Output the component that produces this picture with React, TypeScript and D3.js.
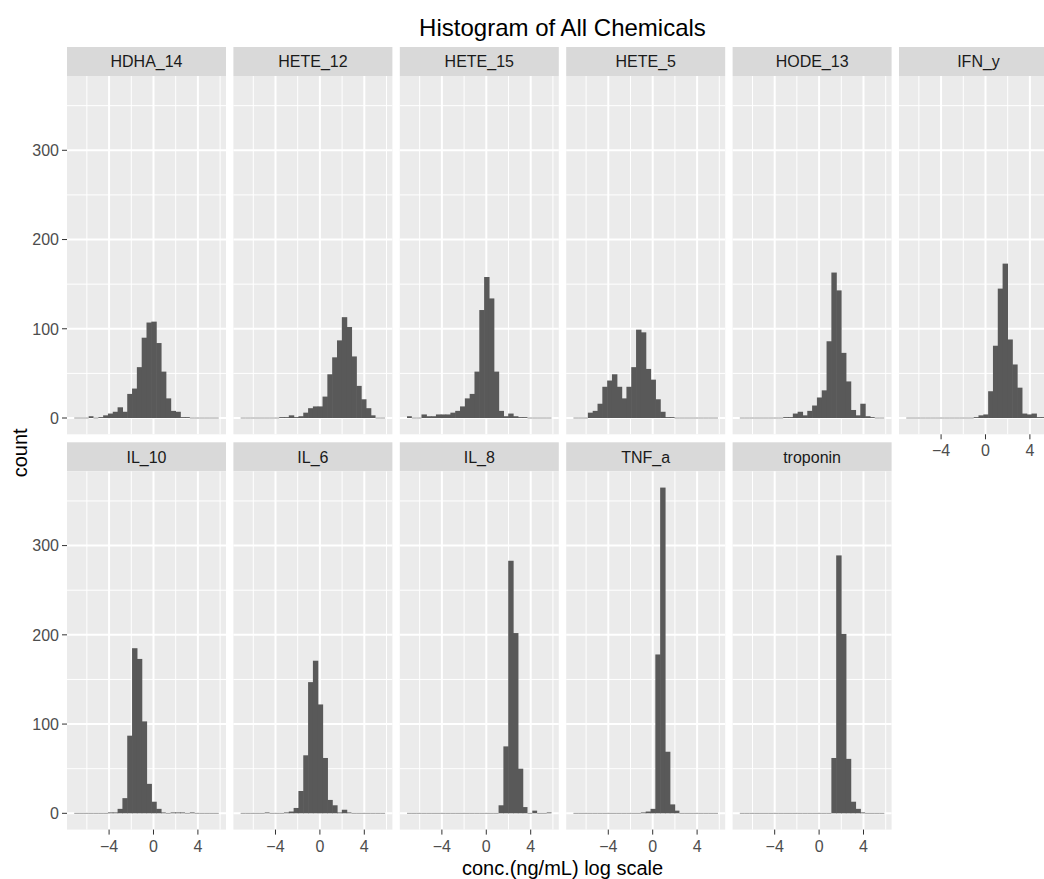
import React from 'react'
import * as d3 from 'd3'

// facet names, in plot order
const chemicals = ['HDHA_14', 'HETE_12', 'HETE_15', 'HETE_5', 'HODE_13', 'IFN_y', 'IL_10', 'IL_6', 'IL_8', 'TNF_a', 'troponin']

// counts per bin (30 bins, shared breaks)
const HDHA_14 = [0, 0, 0, 2, 0, 1, 3, 5, 7, 12, 7, 27, 33, 57, 90, 107, 108, 84, 52, 22, 8, 7, 1, 1, 0, 0, 0, 0, 0, 0]
const HETE_12 = [0, 0, 0, 0, 0, 0, 0, 0, 1, 1, 3, 1, 2, 6, 11, 13, 13, 24, 49, 68, 87, 113, 102, 69, 36, 21, 11, 3, 0, 0]
const HETE_15 = [2, 0, 0, 4, 2, 2, 4, 4, 4, 6, 8, 13, 22, 27, 52, 121, 158, 134, 52, 8, 2, 5, 2, 1, 1, 0, 0, 0, 0, 0]
const HETE_5 = [0, 0, 0, 6, 8, 16, 35, 42, 49, 35, 22, 35, 57, 99, 96, 55, 43, 21, 7, 1, 1, 0, 0, 0, 0, 0, 0, 0, 0, 0]
const HODE_13 = [0, 0, 0, 0, 0, 0, 0, 0, 0, 1, 1, 5, 7, 3, 8, 14, 23, 31, 86, 163, 143, 73, 41, 9, 3, 16, 2, 1, 0, 0]
const IFN_y = [0, 0, 0, 0, 0, 0, 0, 0, 0, 0, 0, 0, 0, 0, 1, 3, 4, 30, 81, 145, 173, 88, 60, 34, 5, 4, 5, 1, 1, 0]
const IL_10 = [0, 0, 0, 0, 0, 0, 0, 1, 1, 5, 17, 87, 185, 173, 103, 33, 13, 5, 1, 0, 1, 1, 1, 0, 1, 0, 0, 0, 0, 0]
const IL_6 = [0, 0, 0, 0, 0, 1, 0, 0, 0, 1, 2, 6, 25, 65, 147, 171, 122, 62, 15, 9, 1, 4, 1, 0, 0, 0, 0, 0, 0, 0]
const IL_8 = [0, 0, 0, 0, 0, 0, 0, 0, 0, 0, 0, 0, 0, 0, 0, 0, 0, 0, 0, 9, 75, 283, 202, 50, 7, 0, 3, 0, 0, 1]
const TNF_a = [0, 0, 0, 0, 0, 0, 0, 0, 0, 0, 0, 0, 0, 0, 1, 2, 5, 178, 365, 69, 10, 3, 0, 0, 0, 0, 0, 0, 0, 0]
const troponin = [0, 0, 0, 0, 0, 0, 0, 0, 0, 0, 0, 0, 0, 0, 0, 0, 0, 0, 0, 62, 289, 201, 61, 13, 5, 1, 0, 0, 0, 0]

const counts = [HDHA_14, HETE_12, HETE_15, HETE_5, HODE_13, IFN_y, IL_10, IL_6, IL_8, TNF_a, troponin]

const binStart = -7.14
const binWidth = 0.434
const xMajor = [-4, 0, 4]
const xMinor = [-6, -2, 2, 6]
const yMajor = [0, 100, 200, 300]
const yMinor = [50, 150, 250, 350]

const font = '"Liberation Sans", Arial, Helvetica, sans-serif'

const W = 1044
const H = 879
const nCol = 6
const left0 = 67
const pitch = 166.4
const panelW = 159
const panelH = 358.3
const rowTop = [76, 471.3]
const stripH = 29

export default function App() {
  const nBins = counts[0].length
  const binEnd = binStart + nBins * binWidth
  const pad = (binEnd - binStart) * 0.05
  const x = d3.scaleLinear().domain([binStart - pad, binEnd + pad]).range([0, panelW])
  const maxCount = d3.max(counts, c => d3.max(c)) as number
  const y = d3.scaleLinear().domain([-0.05 * maxCount, 1.05 * maxCount]).range([panelH, 0])
  const fmt = d3.format('d')

  const panels = chemicals.map((name, i) => {
    const col = i % nCol
    const row = Math.floor(i / nCol)
    const px = left0 + col * pitch
    const py = rowTop[row]
    // bottom axis only where nothing sits below
    const hasXAxis = i + nCol >= chemicals.length
    const hasYAxis = col === 0
    return (
      <g key={name} transform={`translate(${px},${py})`}>
        <rect x={0} y={-stripH} width={panelW} height={stripH} fill='#D9D9D9' />
        <text x={panelW / 2} y={-stripH / 2} dy='0.36em' textAnchor='middle' fontSize={16} fill='#1A1A1A'>{name}</text>
        <rect x={0} y={0} width={panelW} height={panelH} fill='#EBEBEB' />
        {xMinor.map(t => <line key={'xm' + t} x1={x(t)} x2={x(t)} y1={0} y2={panelH} stroke='#fff' strokeWidth={1} />)}
        {yMinor.map(t => <line key={'ym' + t} x1={0} x2={panelW} y1={y(t)} y2={y(t)} stroke='#fff' strokeWidth={1} />)}
        {xMajor.map(t => <line key={'xM' + t} x1={x(t)} x2={x(t)} y1={0} y2={panelH} stroke='#fff' strokeWidth={2} />)}
        {yMajor.map(t => <line key={'yM' + t} x1={0} x2={panelW} y1={y(t)} y2={y(t)} stroke='#fff' strokeWidth={2} />)}
        {counts[i].map((c, k) => {
          const x0 = x(binStart + k * binWidth)
          const x1 = x(binStart + (k + 1) * binWidth)
          const h = y(0) - y(c)
          // slight overlap hides the seams between neighbouring bars
          const overlap = k < nBins - 1 && counts[i][k + 1] > 0 ? 0.6 : 0
          return c > 0
            ? <rect key={k} x={x0} y={y(c)} width={x1 - x0 + overlap} height={h} fill='#595959' />
            : <rect key={k} x={x0} y={y(0) - 0.5} width={x1 - x0} height={1} fill='#595959' opacity={0.6} />
        })}
        {hasXAxis && (
          <g transform={`translate(0,${panelH})`}>
            {xMajor.map(t => (
              <g key={t} transform={`translate(${x(t)},0)`}>
                <line y1={0} y2={5} stroke='#333' strokeWidth={1} />
                <text y={22} textAnchor='middle' fontSize={16} fill='#4D4D4D'>{fmt(t)}</text>
              </g>
            ))}
          </g>
        )}
        {hasYAxis && (
          <g>
            {yMajor.map(t => (
              <g key={t} transform={`translate(0,${y(t)})`}>
                <line x1={-5} x2={0} stroke='#333' strokeWidth={1} />
                <text x={-8} dy='0.36em' textAnchor='end' fontSize={16} fill='#4D4D4D'>{fmt(t)}</text>
              </g>
            ))}
          </g>
        )}
      </g>
    )
  })

  const plotCenter = left0 + ((nCol - 1) * pitch + panelW) / 2

  return (
    <svg width={W} height={H} viewBox={`0 0 ${W} ${H}`} style={{ position: 'absolute', left: 0, top: 0, background: '#fff' }} fontFamily={font}>
      <text x={plotCenter} y={36} textAnchor='middle' fontSize={24} fill='#000'>Histogram of All Chemicals</text>
      {panels}
      <text x={plotCenter} y={875} textAnchor='middle' fontSize={20} fill='#000'>conc.(ng/mL) log scale</text>
      <text transform={`translate(27,${(rowTop[0] + rowTop[1] + panelH) / 2}) rotate(-90)`} textAnchor='middle' fontSize={20} fill='#000'>count</text>
    </svg>
  )
}
